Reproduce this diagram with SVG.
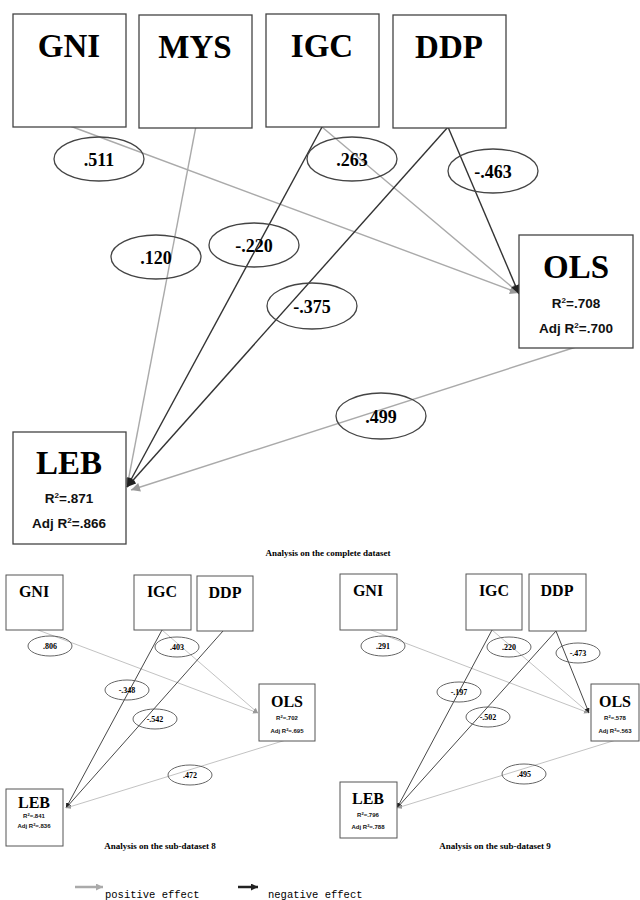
<svg xmlns="http://www.w3.org/2000/svg" width="640" height="900" viewBox="0 0 640 900">
<style>
.box{fill:#fff;stroke:#444;stroke-width:1.3}
.sbox{fill:#fff;stroke:#555;stroke-width:1}
.ell{fill:none;stroke:#444;stroke-width:1.3}
.sell{fill:none;stroke:#555;stroke-width:0.9}
.pos{stroke:#aaa;stroke-width:1.4;fill:none}
.neg{stroke:#333;stroke-width:1.4;fill:none}
.spos{stroke:#bbb;stroke-width:0.9;fill:none}
.sneg{stroke:#333;stroke-width:0.9;fill:none}
.big{font-family:"Liberation Serif",serif;font-weight:bold;font-size:33px;text-anchor:middle;fill:#000}
.sbig{font-family:"Liberation Serif",serif;font-weight:bold;font-size:16px;text-anchor:middle;fill:#000}
.coef{font-family:"Liberation Serif",serif;font-weight:bold;font-size:18px;text-anchor:middle;fill:#000}
.scoef{font-family:"Liberation Serif",serif;font-weight:bold;font-size:8px;text-anchor:middle;fill:#000}
.r2{font-family:"Liberation Sans",sans-serif;font-weight:bold;font-size:13.5px;text-anchor:middle;fill:#111}
.sr2{font-family:"Liberation Sans",sans-serif;font-weight:bold;font-size:6px;text-anchor:middle;fill:#111}
.cap{font-family:"Liberation Serif",serif;font-weight:bold;font-size:9px;text-anchor:middle;fill:#000}
.leg{font-family:"Liberation Mono",monospace;font-size:10.5px;fill:#000}
</style>
<defs>
<marker id="ap" viewBox="0 0 10 10" refX="10" refY="5" markerWidth="10" markerHeight="9" markerUnits="userSpaceOnUse" orient="auto"><path d="M0,0L10,5L0,10z" fill="#999"/></marker>
<marker id="an" viewBox="0 0 10 10" refX="10" refY="5" markerWidth="10" markerHeight="9" markerUnits="userSpaceOnUse" orient="auto"><path d="M0,0L10,5L0,10z" fill="#222"/></marker>
<marker id="sap" viewBox="0 0 10 10" refX="10" refY="5" markerWidth="5" markerHeight="5" markerUnits="userSpaceOnUse" orient="auto"><path d="M0,0L10,5L0,10z" fill="#999"/></marker>
<marker id="san" viewBox="0 0 10 10" refX="10" refY="5" markerWidth="5" markerHeight="5" markerUnits="userSpaceOnUse" orient="auto"><path d="M0,0L10,5L0,10z" fill="#222"/></marker>
<marker id="lap" viewBox="0 0 10 10" refX="10" refY="5" markerWidth="9" markerHeight="7" markerUnits="userSpaceOnUse" orient="auto"><path d="M0,0L10,5L0,10z" fill="#aaa"/></marker>
<marker id="lan" viewBox="0 0 10 10" refX="10" refY="5" markerWidth="9" markerHeight="7" markerUnits="userSpaceOnUse" orient="auto"><path d="M0,0L10,5L0,10z" fill="#222"/></marker>
</defs>
<rect width="640" height="900" fill="#fff"/>

<!-- ===== Complete dataset ===== -->
<g id="connectors-main">
<line class="pos" x1="70" y1="126" x2="519" y2="293" marker-end="url(#ap)"/>
<line class="pos" x1="322" y1="127" x2="519" y2="293" marker-end="url(#ap)"/>
<line class="neg" x1="448" y1="127" x2="519" y2="294" marker-end="url(#an)"/>
<line class="pos" x1="196" y1="126" x2="127" y2="487" marker-end="url(#ap)"/>
<line class="neg" x1="322" y1="127" x2="127" y2="487" marker-end="url(#an)"/>
<line class="neg" x1="448" y1="127" x2="127" y2="487" marker-end="url(#an)"/>
<line class="pos" x1="576" y1="347" x2="131" y2="490" marker-end="url(#ap)"/>
</g>
<g id="labels-main">
<ellipse class="ell" cx="99" cy="159" rx="45" ry="22"/><text class="coef" x="99" y="166">.511</text>
<ellipse class="ell" cx="156" cy="257" rx="45" ry="22"/><text class="coef" x="156" y="264">.120</text>
<ellipse class="ell" cx="254" cy="245" rx="45" ry="22"/><text class="coef" x="254" y="252">-.220</text>
<ellipse class="ell" cx="352" cy="159" rx="45" ry="22"/><text class="coef" x="352" y="166">.263</text>
<ellipse class="ell" cx="493" cy="171" rx="45" ry="22"/><text class="coef" x="493" y="178">-.463</text>
<ellipse class="ell" cx="312" cy="306" rx="45" ry="23"/><text class="coef" x="312" y="313">-.375</text>
<ellipse class="ell" cx="381" cy="416" rx="45" ry="23"/><text class="coef" x="381" y="423">.499</text>
</g>
<g id="GNI"><rect class="box" x="13" y="14" width="113" height="113"/><text class="big" x="69" y="57">GNI</text></g>
<g id="MYS"><rect class="box" x="139" y="15" width="113" height="113"/><text class="big" x="195" y="58">MYS</text></g>
<g id="IGC"><rect class="box" x="266" y="14" width="113" height="113"/><text class="big" x="322" y="57">IGC</text></g>
<g id="DDP"><rect class="box" x="393" y="15" width="113" height="113"/><text class="big" x="449" y="58">DDP</text></g>
<g id="OLS"><rect class="box" x="519" y="235" width="114" height="113"/><text class="big" x="576" y="278">OLS</text>
<text class="r2" x="576" y="308">R<tspan font-size="8" dy="-5">2</tspan><tspan dy="5">=.708</tspan></text>
<text class="r2" x="576" y="333">Adj R<tspan font-size="8" dy="-5">2</tspan><tspan dy="5">=.700</tspan></text></g>
<g id="LEB"><rect class="box" x="13" y="432" width="113" height="112"/><text class="big" x="69" y="474">LEB</text>
<text class="r2" x="69" y="503">R<tspan font-size="8" dy="-5">2</tspan><tspan dy="5">=.871</tspan></text>
<text class="r2" x="69" y="528">Adj R<tspan font-size="8" dy="-5">2</tspan><tspan dy="5">=.866</tspan></text></g>
<text class="cap" x="328" y="556">Analysis on the complete dataset</text>

<!-- ===== Sub-dataset 8 ===== -->
<g id="connectors-s8">
<line class="spos" x1="38" y1="630" x2="258" y2="713" marker-end="url(#sap)"/>
<line class="spos" x1="162" y1="630" x2="258" y2="713" marker-end="url(#sap)"/>
<line class="sneg" x1="162" y1="630" x2="66" y2="808" marker-end="url(#san)"/>
<line class="sneg" x1="223" y1="631" x2="66" y2="808" marker-end="url(#san)"/>
<line class="spos" x1="286" y1="740" x2="66" y2="808" marker-end="url(#sap)"/>
</g>
<g id="labels-s8">
<ellipse class="sell" cx="50" cy="646" rx="22" ry="10"/><text class="scoef" x="50" y="649">.806</text>
<ellipse class="sell" cx="177" cy="647" rx="22" ry="10"/><text class="scoef" x="177" y="650">.403</text>
<ellipse class="sell" cx="127" cy="690" rx="22" ry="10"/><text class="scoef" x="127" y="693">-.348</text>
<ellipse class="sell" cx="155" cy="719" rx="22" ry="10"/><text class="scoef" x="155" y="722">-.542</text>
<ellipse class="sell" cx="190" cy="775" rx="22" ry="10"/><text class="scoef" x="190" y="778">.472</text>
</g>
<g id="GNI-s8"><rect class="sbox" x="6" y="575" width="57" height="55"/><text class="sbig" x="34" y="597">GNI</text></g>
<g id="IGC-s8"><rect class="sbox" x="134" y="575" width="57" height="55"/><text class="sbig" x="162" y="597">IGC</text></g>
<g id="DDP-s8"><rect class="sbox" x="197" y="576" width="56" height="55"/><text class="sbig" x="225" y="598">DDP</text></g>
<g id="OLS-s8"><rect class="sbox" x="259" y="684" width="56" height="57"/><text class="sbig" x="287" y="707">OLS</text>
<text class="sr2" x="287" y="720">R<tspan font-size="4" dy="-2.5">2</tspan><tspan dy="2.5">=.702</tspan></text>
<text class="sr2" x="287" y="733">Adj R<tspan font-size="4" dy="-2.5">2</tspan><tspan dy="2.5">=.695</tspan></text></g>
<g id="LEB-s8"><rect class="sbox" x="6" y="789" width="57" height="57"/><text class="sbig" x="34" y="808">LEB</text>
<text class="sr2" x="34" y="818">R<tspan font-size="4" dy="-2.5">2</tspan><tspan dy="2.5">=.841</tspan></text>
<text class="sr2" x="34" y="828">Adj R<tspan font-size="4" dy="-2.5">2</tspan><tspan dy="2.5">=.836</tspan></text></g>
<text class="cap" x="160" y="849">Analysis on the sub-dataset 8</text>

<!-- ===== Sub-dataset 9 ===== -->
<g id="connectors-s9">
<line class="spos" x1="371" y1="630" x2="589" y2="713" marker-end="url(#sap)"/>
<line class="spos" x1="492" y1="630" x2="589" y2="713" marker-end="url(#sap)"/>
<line class="sneg" x1="556" y1="631" x2="589" y2="713" marker-end="url(#san)"/>
<line class="sneg" x1="492" y1="630" x2="397" y2="808" marker-end="url(#san)"/>
<line class="sneg" x1="556" y1="631" x2="397" y2="808" marker-end="url(#san)"/>
<line class="spos" x1="616" y1="740" x2="397" y2="808" marker-end="url(#sap)"/>
</g>
<g id="labels-s9">
<ellipse class="sell" cx="383" cy="646" rx="22" ry="10"/><text class="scoef" x="383" y="649">.291</text>
<ellipse class="sell" cx="509" cy="647" rx="22" ry="10"/><text class="scoef" x="509" y="650">.220</text>
<ellipse class="sell" cx="578" cy="653" rx="22" ry="10"/><text class="scoef" x="578" y="656">-.473</text>
<ellipse class="sell" cx="459" cy="692" rx="22" ry="10"/><text class="scoef" x="459" y="695">-.197</text>
<ellipse class="sell" cx="488" cy="717" rx="22" ry="10"/><text class="scoef" x="488" y="720">-.502</text>
<ellipse class="sell" cx="524" cy="774" rx="22" ry="10"/><text class="scoef" x="524" y="777">.495</text>
</g>
<g id="GNI-s9"><rect class="sbox" x="340" y="574" width="57" height="56"/><text class="sbig" x="368" y="596">GNI</text></g>
<g id="IGC-s9"><rect class="sbox" x="466" y="574" width="56" height="56"/><text class="sbig" x="494" y="596">IGC</text></g>
<g id="DDP-s9"><rect class="sbox" x="529" y="574" width="57" height="57"/><text class="sbig" x="557" y="596">DDP</text></g>
<g id="OLS-s9"><rect class="sbox" x="591" y="684" width="48" height="57"/><text class="sbig" x="615" y="707">OLS</text>
<text class="sr2" x="615" y="720">R<tspan font-size="4" dy="-2.5">2</tspan><tspan dy="2.5">=.578</tspan></text>
<text class="sr2" x="615" y="733">Adj R<tspan font-size="4" dy="-2.5">2</tspan><tspan dy="2.5">=.563</tspan></text></g>
<g id="LEB-s9"><rect class="sbox" x="340" y="782" width="57" height="56"/><text class="sbig" x="368" y="804">LEB</text>
<text class="sr2" x="368" y="817">R<tspan font-size="4" dy="-2.5">2</tspan><tspan dy="2.5">=.796</tspan></text>
<text class="sr2" x="368" y="829">Adj R<tspan font-size="4" dy="-2.5">2</tspan><tspan dy="2.5">=.788</tspan></text></g>
<text class="cap" x="495" y="849">Analysis on the sub-dataset 9</text>

<!-- ===== Legend ===== -->
<g id="legend">
<line x1="75" y1="887" x2="103" y2="887" stroke="#aaa" stroke-width="2.5" marker-end="url(#lap)"/>
<text class="leg" x="105" y="898">positive effect</text>
<line x1="238" y1="887" x2="258" y2="887" stroke="#222" stroke-width="2.5" marker-end="url(#lan)"/>
<text class="leg" x="268" y="898">negative effect</text>
</g>
</svg>
